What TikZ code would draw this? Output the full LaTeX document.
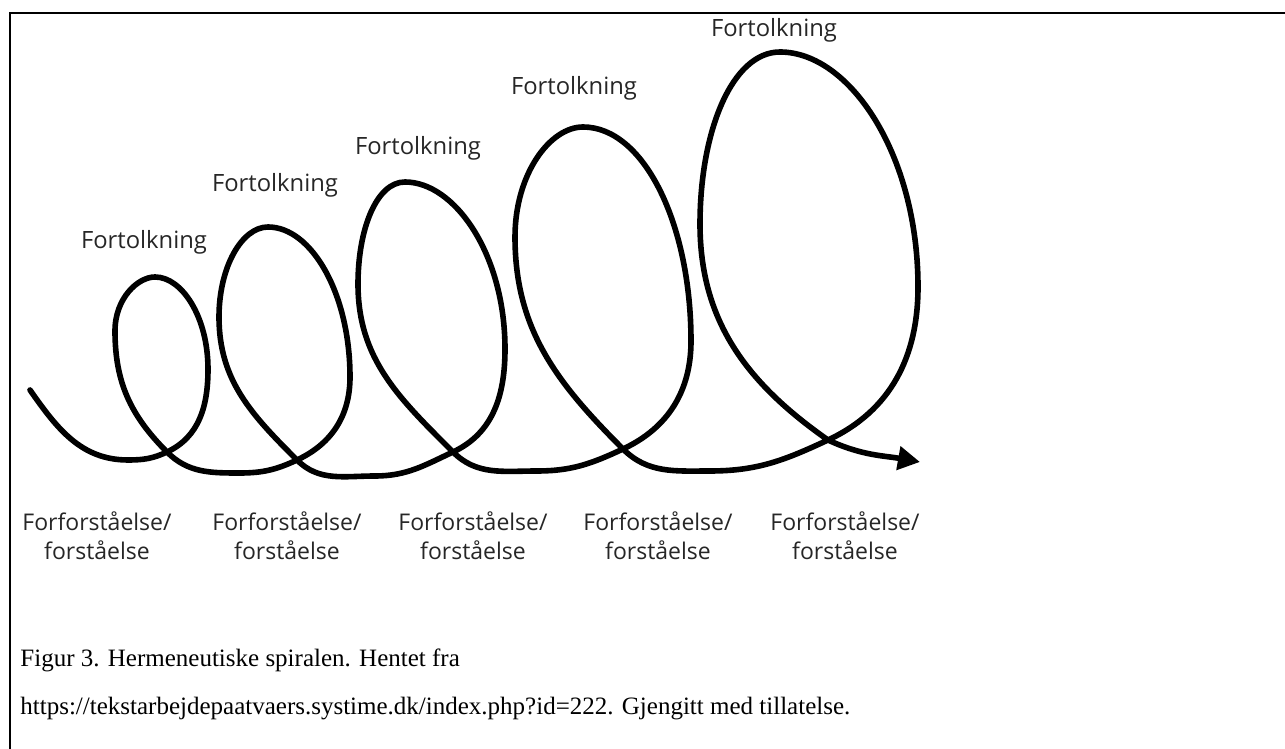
\documentclass[tikz,border=0pt]{standalone}
\usepackage{fontspec}
\setmainfont{Liberation Serif}
\newfontfamily\labelfont{Open Sans}
\usetikzlibrary{arrows.meta}

\begin{document}
\begin{tikzpicture}[x=0.5pt, y=0.5pt,
    every node/.style={inner sep=0pt, text=black!85, font=\labelfont\fontsize{11.5}{14.5}\selectfont},
    spiral/.style={line width=2.8pt, line cap=round, line join=round},
    risearc/.style={out=90, in=0, out looseness=1.25, in looseness=0.65},
    fallarc/.style={out=180, in=90, out looseness=0.65, in looseness=1.25},
    caption/.style={anchor=base west, text=black, font=\rmfamily\fontsize{12.5}{15}\selectfont}]
  \useasboundingbox (0,0) rectangle (1285,749);
  \draw[line width=1pt] (10,0) -- (10,736) -- (1285,736);
  % points of the spiral: C = crossing, R = right, T = top, L = left, B = bottom
  \coordinate (S) at (30,359);   \coordinate (B0) at (128,289);
  \coordinate (C1) at (167,297); \coordinate (R1) at (208,380); \coordinate (T1) at (155,472); \coordinate (L1) at (115,418);
  \coordinate (B1) at (240,276);
  \coordinate (C2) at (297,289); \coordinate (R2) at (350,372); \coordinate (T2) at (268,522); \coordinate (L2) at (219,432);
  \coordinate (B2) at (375,273);
  \coordinate (C3) at (453,297); \coordinate (R3) at (505,400); \coordinate (T3) at (405,567); \coordinate (L3) at (358,465);
  \coordinate (B3) at (537,278);
  \coordinate (C4) at (623,300); \coordinate (R4) at (691,408); \coordinate (T4) at (583,622); \coordinate (L4) at (515,512);
  \coordinate (B4) at (710,278);
  \coordinate (C5) at (828,309); \coordinate (R5) at (918,462); \coordinate (T5) at (780,697); \coordinate (L5) at (700,525);
  \coordinate (E) at (920,287);
  \draw[spiral, -{Triangle[length=11pt, width=11.5pt]}]
    (S) to[out=-55, in=180] (B0) to[out=0, in=205] (C1)
    to[out=25, in=-90] (R1) to[risearc] (T1) to[fallarc] (L1) to[out=-90, in=135] (C1)
    to[out=-45, in=180] (B1) to[out=0, in=205] (C2)
    to[out=25, in=-90] (R2) to[risearc] (T2) to[fallarc] (L2) to[out=-90, in=135] (C2)
    to[out=-45, in=180] (B2) to[out=0, in=205] (C3)
    to[out=25, in=-90] (R3) to[risearc] (T3) to[fallarc] (L3) to[out=-90, in=135] (C3)
    to[out=-45, in=180] (B3) to[out=0, in=205] (C4)
    to[out=25, in=-90] (R4) to[risearc] (T4) to[fallarc] (L4) to[out=-90, in=135] (C4)
    to[out=-45, in=180] (B4) to[out=0, in=205] (C5)
    to[out=25, in=-90] (R5) to[risearc] (T5) to[fallarc] (L5) to[out=-90, in=145] (C5)
    to[out=-25, in=170] (E);
  % labels
  \begin{scope}[every node/.append style={font=\labelfont\fontsize{11.9}{14.5}\selectfont}]
    \node (F1) at (144,507) {Fortolkning}; \node (F2) at (275,564) {Fortolkning};
    \node (F3) at (418,601) {Fortolkning}; \node (F4) at (574,661) {Fortolkning};
    \node (F5) at (774,719) {Fortolkning};
  \end{scope}
  \node[align=center] (U1) at (97,213) {Forforståelse/\\forståelse};
  \node[align=center] (U2) at (287,213) {Forforståelse/\\forståelse};
  \node[align=center] (U3) at (473,213) {Forforståelse/\\forståelse};
  \node[align=center] (U4) at (658,213) {Forforståelse/\\forståelse};
  \node[align=center] (U5) at (845,213) {Forforståelse/\\forståelse};
  \node[caption] (cap1) at (20,82) {Figur 3. Hermeneutiske spiralen. Hentet fra};
  \node[caption] (cap2) at (20,34) {https://tekstarbejdepaatvaers.systime.dk/index.php?id=222. Gjengitt med tillatelse.};
\end{tikzpicture}
\end{document}
